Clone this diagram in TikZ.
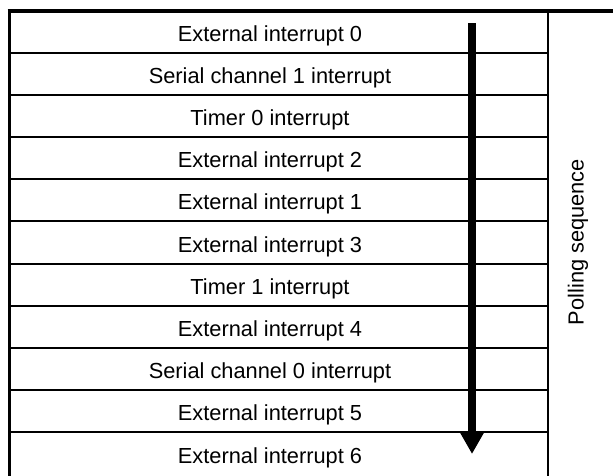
\documentclass[tikz,border=0pt]{standalone}
\usepackage{fontspec}
\setmainfont{Liberation Sans}
\usetikzlibrary{arrows.meta}
\tikzset{
  lbl/.style={inner sep=0pt, font=\fontsize{21.8}{26}\selectfont},
  rowline/.style={line width=2pt},
  frameline/.style={line width=3.5pt},
}
\begin{document}
\begin{tikzpicture}[x=1pt,y=-1pt]
\useasboundingbox (0,0) rectangle (613,475);
\begin{scope}
\clip (0,0) rectangle (613,475);
% frame
\draw[frameline] (7.5,11) -- (615,11);
\draw[frameline] (9.5,9.5) -- (9.5,480);
\draw[rowline] (548,11) -- (548,480);
\foreach \k in {0,...,9} {
  \draw[rowline] (9.5,{52.5+42.2*\k}) -- (548,{52.5+42.2*\k});
}
\end{scope}
% labels
\node[lbl, anchor=base] (r0) at (270,{41+42.2*0}) {External interrupt 0};
\node[lbl, anchor=base] (r1) at (270,{41+42.2*1}) {Serial channel 1 interrupt};
\node[lbl, anchor=base] (r2) at (270,{41+42.2*2}) {Timer 0 interrupt};
\node[lbl, anchor=base] (r3) at (270,{41+42.2*3}) {External interrupt 2};
\node[lbl, anchor=base] (r4) at (270,{41+42.2*4}) {External interrupt 1};
\node[lbl, anchor=base] (r5) at (270,{41+42.2*5}) {External interrupt 3};
\node[lbl, anchor=base] (r6) at (270,{41+42.2*6}) {Timer 1 interrupt};
\node[lbl, anchor=base] (r7) at (270,{41+42.2*7}) {External interrupt 4};
\node[lbl, anchor=base] (r8) at (270,{41+42.2*8}) {Serial channel 0 interrupt};
\node[lbl, anchor=base] (r9) at (270,{41+42.2*9}) {External interrupt 5};
\node[lbl, anchor=base] (r10) at (270,{41+42.2*10}) {External interrupt 6};
% arrow
\coordinate (as) at (472,23);
\coordinate (ae) at (472,454);
\draw[line width=8pt, -{Triangle[length=22pt,width=23pt]}] (as) -- (ae);
% side label
\node[lbl, rotate=90] (ps) at (578,242) {Polling sequence};
\end{tikzpicture}
\end{document}
